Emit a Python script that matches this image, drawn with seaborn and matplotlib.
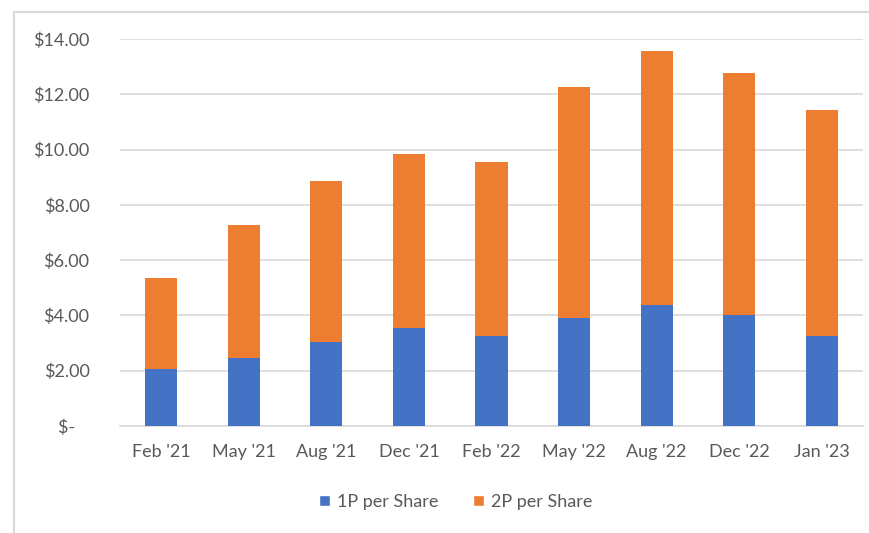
import matplotlib
matplotlib.use("Agg")
import matplotlib.pyplot as plt
from matplotlib.lines import Line2D
from matplotlib.patches import Patch
import seaborn as sns
import numpy as np
import pandas as pd

categories = ["Feb '21", "May '21", "Aug '21", "Dec '21", "Feb '22",
              "May '22", "Aug '22", "Dec '22", "Jan '23"]
p1_per_share = [2.06, 2.46, 3.05, 3.55, 3.26, 3.91, 4.37, 4.02, 3.26]
p2_per_share = [3.31, 4.81, 5.82, 6.30, 6.30, 8.35, 9.21, 8.76, 8.17]
y_ticks = [0, 2, 4, 6, 8, 10, 12, 14]
y_tick_labels = ["$-   ", "$2.00", "$4.00", "$6.00", "$8.00", "$10.00", "$12.00", "$14.00"]
series_names = ["1P per Share", "2P per Share"]

BLUE = "#4472C4"
ORANGE = "#ED7D31"
TEXT = "#595959"

sns.set_theme(style="white")
plt.rcParams["font.family"] = ["Lato", "DejaVu Sans"]

df = pd.DataFrame({"cat": categories, "p1": p1_per_share, "p2": p2_per_share})
df["total"] = df["p1"] + df["p2"]

fig = plt.figure(figsize=(8.69, 5.33), dpi=100)
ax = fig.add_axes([120 / 869, 1 - 426 / 533, (863 - 120) / 869, (426 - 39) / 533])

sns.barplot(data=df, x="cat", y="total", color=ORANGE, width=0.39,
            saturation=1, ax=ax, linewidth=0, zorder=3)
sns.barplot(data=df, x="cat", y="p1", color=BLUE, width=0.39,
            saturation=1, ax=ax, linewidth=0, zorder=4)

ax.set_ylim(0, 14)
ax.set_xlim(-0.5, len(categories) - 0.5)
ax.set_yticks(y_ticks)
ax.set_yticklabels(y_tick_labels)
ax.yaxis.grid(True, color="#D9D9D9", linewidth=1.2, zorder=0)
ax.set_axisbelow(True)
for s in ["top", "right", "left"]:
    ax.spines[s].set_visible(False)
ax.spines["bottom"].set_color("#D9D9D9")
ax.spines["bottom"].set_linewidth(1.2)
ax.set_xlabel("")
ax.set_ylabel("")
ax.tick_params(axis="y", length=0, pad=22, labelsize=13, labelcolor=TEXT)
ax.tick_params(axis="x", length=0, pad=13, labelsize=13, labelcolor=TEXT)

handles = [Patch(facecolor=BLUE, label=series_names[0]),
           Patch(facecolor=ORANGE, label=series_names[1])]
fig.legend(handles=handles, loc="center", bbox_to_anchor=(456 / 869, 1 - 502 / 533),
           ncol=2, frameon=False, fontsize=13, labelcolor=TEXT,
           handlelength=0.6, handleheight=0.6, handletextpad=0.4, columnspacing=1.9)

# outer chart border (partially visible)
fig.add_artist(Line2D([13.5 / 869, 13.5 / 869], [0, 1 - 11.5 / 533],
                      transform=fig.transFigure, color="#D9D9D9", linewidth=1.5))
fig.add_artist(Line2D([13.5 / 869, 1], [1 - 11.5 / 533, 1 - 11.5 / 533],
                      transform=fig.transFigure, color="#D9D9D9", linewidth=1.5))

fig.savefig("out.png", dpi=100, facecolor="white")
